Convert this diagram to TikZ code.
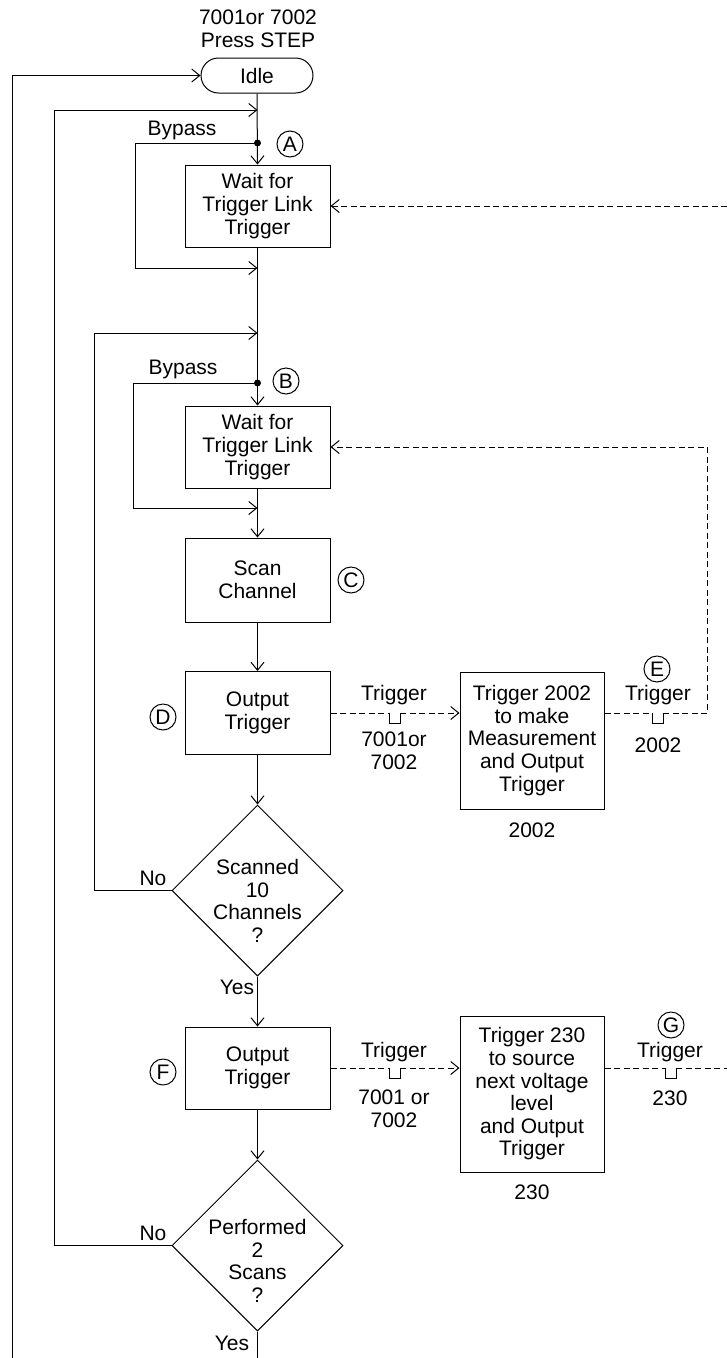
\documentclass[tikz,border=0pt]{standalone}
\usepackage{fontspec}
\setmainfont{Liberation Sans}
\usetikzlibrary{arrows.meta,shapes.geometric}
\newcommand{\myfs}{\fontsize{21}{22.6}\selectfont}
\begin{document}
\begin{tikzpicture}[x=1pt,y=-1pt,line width=1pt,
  every node/.style={font=\myfs,align=center,inner sep=0pt},
  arr/.style={-{Straight Barb[length=8pt,width=13pt]}},
  dsh/.style={dash pattern=on 6pt off 3.5pt},
  box/.style={draw,minimum width=145pt},
  term/.style={draw,rounded corners=17.5pt,minimum width=112pt,minimum height=35pt},
  dia/.style={draw,diamond,minimum width=171pt,minimum height=171pt},
  circ/.style={draw,circle,minimum size=26pt}]
\useasboundingbox (0,0) rectangle (727,1358);
% header and terminal
\node (hdr) at (258,29) {7001or 7002\\Press STEP};
\node[term] (idle) at (257,75.5) {Idle};
% boxes
\node[box,minimum height=82pt] (w1) at (257.5,206) {Wait for\\Trigger Link\\Trigger};
\node[box,minimum height=82pt] (w2) at (257.5,447) {Wait for\\Trigger Link\\Trigger};
\node[box,minimum height=84pt] (sc) at (257.5,580) {Scan\\Channel};
\node[box,minimum height=83pt] (o1) at (257.5,713) {Output\\Trigger};
\node[box,minimum height=82pt] (o2) at (257.5,1068) {Output\\Trigger};
\node[box,minimum width=144pt,minimum height=137pt] (m1) at (532,740.5) {Trigger 2002\\to make\\Measurement\\and Output\\Trigger};
\node[box,minimum width=144pt,minimum height=156pt] (m2) at (532,1094) {Trigger 230\\to source\\next voltage\\level\\and Output\\Trigger};
% decisions
\node[dia] (d1) at (257.5,890.5) {};
\node (d1t) at (257.5,901) {Scanned\\10\\Channels\\?};
\node[dia] (d2) at (257.5,1245.5) {};
\node (d2t) at (257.5,1261) {Performed\\2\\Scans\\?};
% coordinates
\coordinate (j1) at (257.5,110);
\coordinate (dA) at (257.5,143);
\coordinate (jA) at (257.5,268);
\coordinate (j2) at (257.5,333);
\coordinate (dB) at (257.5,383);
\coordinate (jB) at (257.5,508);
\coordinate (bl) at (12,1358);
\coordinate (bm) at (257.5,1358);
\coordinate (rt1) at (727,206);
\coordinate (rt2) at (727,1068);
\coordinate (cE) at (707,447);
\coordinate (p1a) at (389,713);
\coordinate (p1b) at (400,713);
\coordinate (pEa) at (652,713);
\coordinate (pEb) at (663,713);
\coordinate (pFa) at (389,1068);
\coordinate (pFb) at (400,1068);
\coordinate (pGa) at (665,1068);
\coordinate (pGb) at (676,1068);
% main flow
\draw[arr] (idle.south) -- (w1.north);
\draw[arr] (w1.south) -- (w2.north);
\draw[arr] (w2.south) -- (sc.north);
\draw[arr] (sc.south) -- (o1.north);
\draw[arr] (o1.south) -- (d1.north);
\draw[arr] (d1.south) -- (o2.north);
\draw[arr] (o2.south) -- (d2.north);
\draw (d2.south) -- (bm);
\draw[arr] (bl) |- (idle.west);
\draw[arr] (d2.west) -| (54,110) -- (j1);
\draw[arr] (d1.west) -| (94,333) -- (j2);
\draw[arr] (dA) -| (135,268) -- (jA);
\draw[arr] (dB) -| (133,508) -- (jB);
\fill (dA) circle (3.5pt);
\fill (dB) circle (3.5pt);
% dashed trigger lines
\draw[dsh,arr] (rt1) -- (w1.east);
\draw[dsh] (o1.east) -- (p1a);
\draw (p1a) -- ++(0,10) -| (p1b);
\draw[dsh,arr] (p1b) -- (p1b -| m1.west);
\draw[dsh] (m1.east |- pEa) -- (pEa);
\draw (pEa) -- ++(0,10) -| (pEb);
\draw[dsh,arr] (pEb) -| (cE) -- (w2.east);
\draw[dsh] (o2.east) -- (pFa);
\draw (pFa) -- ++(0,10) -| (pFb);
\draw[dsh,arr] (pFb) -- (pFb -| m2.west);
\draw[dsh] (m2.east |- pGa) -- (pGa);
\draw (pGa) -- ++(0,10) -| (pGb);
\draw[dsh] (pGb) -- (rt2);
% labels
\node (byA) at (182,130) {Bypass};
\node (byB) at (183,369) {Bypass};
\node (no1) at (153,878) {No};
\node (no2) at (153,1233) {No};
\node (ye1) at (237,987) {Yes};
\node (ye2) at (232,1343) {Yes};
\node (tg1) at (394,695) {Trigger};
\node (lb1) at (394,751) {7001or\\7002};
\node (tg2) at (658,695) {Trigger};
\node (lb2) at (658,745) {2002};
\node (tg3) at (394,1052) {Trigger};
\node (lb3) at (394,1109) {7001 or\\7002};
\node (tg4) at (670,1052) {Trigger};
\node (lb4) at (670,1098) {230};
\node (u1) at (532,830) {2002};
\node (u2) at (532,1192) {230};
% circled letters
\node[circ] (cA) at (290,144) {A};
\node[circ] (cB) at (286,381) {B};
\node[circ] (cC) at (351,580) {C};
\node[circ] (cD) at (163,717) {D};
\node[circ] (cE2) at (657,669) {E};
\node[circ] (cF) at (163,1072) {F};
\node[circ] (cG) at (671,1025) {G};
\end{tikzpicture}
\end{document}
